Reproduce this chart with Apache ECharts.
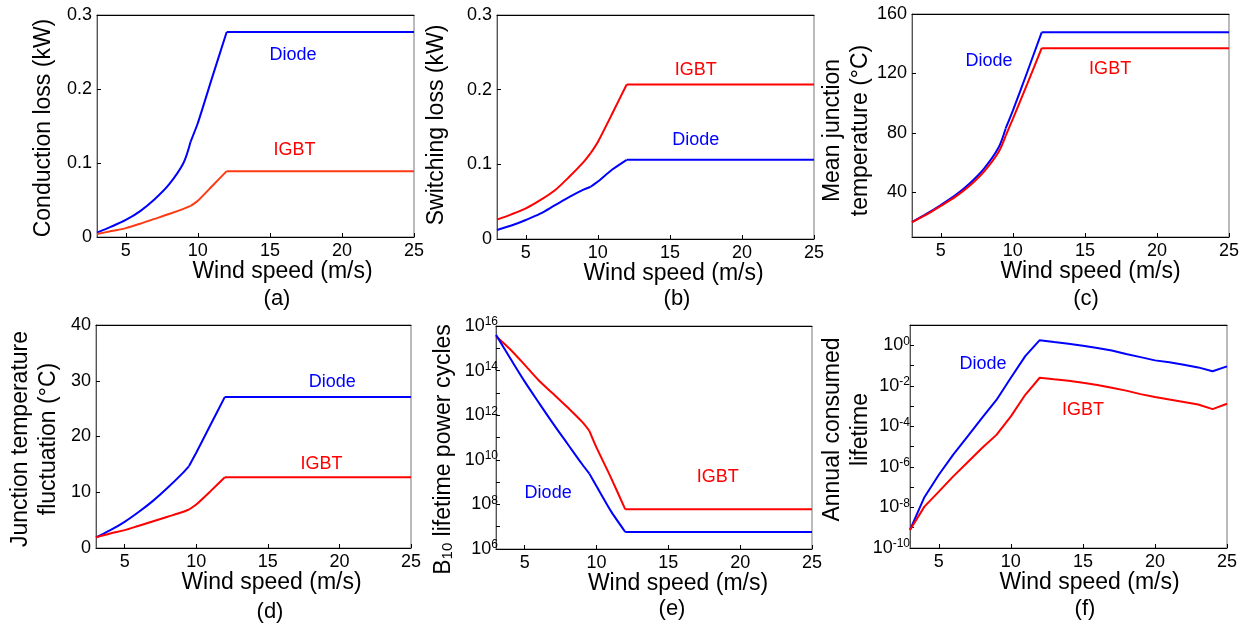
<!DOCTYPE html>
<html><head><meta charset="utf-8">
<script src="https://cdn.jsdelivr.net/npm/echarts@6/dist/echarts.min.js"></script>
<style>html,body{margin:0;padding:0;background:#fff}#c{width:1246px;height:627px}</style>
</head><body><div id="c"></div>
<script>
// ---------- data ----------
const windSpeed = [3, 4, 5, 6, 7, 8, 9, 9.5, 10, 11, 12, 25];
const windSpeedF = [3,4,5,6,7,8,9,10,11,12,13,14,15,16,17,18,19,20,21,22,23,24,25];
const xTicks = [5, 10, 15, 20, 25];
const tjTicks = [40, 80, 120, 160];
const b10Ticks = [1e6, 1e7, 1e8, 1e9, 1e10, 1e11, 1e12, 1e13, 1e14, 1e15, 1e16];
const aclTicks = [1e-10, 1e-9, 1e-8, 1e-7, 1e-6, 1e-5, 1e-4, 1e-3, 1e-2, 1e-1, 1, 10];

const condDiode = [0.006, 0.014, 0.023, 0.035, 0.051, 0.071, 0.100, 0.129, 0.154, 0.216, 0.277, 0.277];
const condIGBT  = [0.004, 0.008, 0.012, 0.018, 0.0245, 0.031, 0.038, 0.042, 0.049, 0.069, 0.089, 0.089];

const swIGBT  = [0.026, 0.033, 0.041, 0.052, 0.065, 0.083, 0.103, 0.115, 0.130, 0.168, 0.207, 0.207];
const swDiode = [0.012, 0.018, 0.0255, 0.034, 0.045, 0.056, 0.066, 0.070, 0.077, 0.093, 0.106, 0.106];

const tjDiode = [20, 25.5, 31.5, 38, 46, 56, 70, 83, 95, 121, 147.7, 147.7];
const tjIGBT  = [20, 25, 31, 37, 44.5, 54, 67, 78, 89.5, 113, 137, 137];

const dtDiode = [1.9, 3.2, 4.7, 6.5, 8.5, 10.8, 13.3, 14.7, 17.1, 22.1, 27.1, 27.1];
const dtIGBT  = [1.9, 2.6, 3.2, 4.0, 4.8, 5.6, 6.4, 6.9, 7.8, 10.2, 12.7, 12.7];

const b10Diode = [4e15, 3.5e14, 3.2e13, 3.5e12, 4e11, 5e10, 6.3e9, 2.4e9, 6.5e8, 5e7, 5.8e6, 5.8e6];
const b10IGBT  = [3.5e15, 8.9e14, 1.8e14, 3.5e13, 8.9e12, 2.2e12, 5e11, 2e11, 3.5e10, 1.6e9, 6e7, 6e7];

const aclDiode = [7.8e-10, 3.2e-8, 4.1e-7, 4.0e-6, 3.2e-5, 2.6e-4, 2.0e-3, 2.5e-2, 0.29, 1.78, 1.45, 1.2, 0.95, 0.74, 0.55, 0.37, 0.26, 0.18, 0.145, 0.11, 0.081, 0.052, 0.091];
const aclIGBT  = [7.8e-10, 1.1e-8, 6.0e-8, 3.4e-7, 1.7e-6, 8.5e-6, 3.8e-5, 3.1e-4, 3.6e-3, 2.5e-2, 2.1e-2, 1.8e-2, 1.4e-2, 1.1e-2, 8.1e-3, 5.8e-3, 3.9e-3, 2.8e-3, 2.1e-3, 1.6e-3, 1.2e-3, 7.1e-4, 1.3e-3];

const yNames = ['Conduction loss (kW)', 'Switching loss (kW)', 'Mean junction\ntemperature (°C)',
  'Junction temperature\nfluctuation (°C)', 'B{sub|10} lifetime power cycles', 'Annual consumed\nlifetime'];
const xName = 'Wind speed (m/s)';
const captions = ['(a)', '(b)', '(c)', '(d)', '(e)', '(f)'];
const seriesNames = ['Diode', 'IGBT'];

// ---------- styling / layout ----------
const FONT = '"Liberation Sans", Arial, sans-serif';
const NAME_FS = 23;
const BLUE = '#0000ff', RED = '#ff0000', ORANGE = '#ff3a12';
const grids = [
  {left: 97, top: 15, width: 317, height: 222},
  {left: 497, top: 15, width: 317, height: 224},
  {left: 912, top: 14, width: 317, height: 223},
  {left: 96, top: 325, width: 315, height: 223},
  {left: 496, top: 326, width: 316, height: 223},
  {left: 910, top: 325, width: 317, height: 223}
];
const xShift = [27, 18, 20, 18, 24, 21];
const capPos = [[277, 299], [677, 299], [1086, 299], [270, 612], [672, 609], [1085, 609]];
// piecewise pieces (index ranges) : rising curve, ramp, flat rated part
const pieces = [[0, 7, 0.3], [7, 10, 0.2], [10, 11, 0]];

function zip(xs, ys) { return xs.map((x, i) => [x, ys[i]]); }

const xAxes = [], yAxes = [], series = [], graphics = [];
grids.forEach((g, i) => {
  xAxes.push({
    type: 'value', gridIndex: i, min: 3, max: 25,
    axisLine: {show: true, onZero: false, lineStyle: {color: '#000', width: 1}},
    axisTick: {show: true, inside: true, length: 4, customValues: xTicks, lineStyle: {color: '#000'}},
    axisLabel: {customValues: xTicks, fontSize: 18, color: '#000', margin: 5, fontFamily: FONT},
    splitLine: {show: false},
    name: xName, nameLocation: 'middle', nameGap: 23, nameMoveOverlap: false,
    nameTextStyle: {fontSize: NAME_FS, color: '#000', fontFamily: FONT, padding: [0, 0, 0, xShift[i] * 2]}
  });
  xAxes.push({
    type: 'value', gridIndex: i, min: 3, max: 25, position: 'top',
    axisLine: {show: true, onZero: false, lineStyle: {color: '#000', width: 1}},
    axisTick: {show: false}, axisLabel: {show: false}, splitLine: {show: false}
  });
});

const supRich = {
  b: {fontSize: 18, lineHeight: 20, verticalAlign: 'middle', fontFamily: FONT, color: '#000'},
  e: {fontSize: 12, lineHeight: 12, verticalAlign: 'top', padding: [0, 0, 28, 0], fontFamily: FONT, color: '#000'}
};
function logFmt(v) {
  const e = Math.round(Math.log10(v));
  if (e % 2 !== 0) return '';
  return '{b|10}{e|' + e + '}';
}

function yBase(i, extra) {
  return Object.assign({
    gridIndex: i,
    axisLine: {show: true, onZero: false, lineStyle: {color: '#555', width: 1}},
    axisTick: {show: true, inside: true, length: 4, lineStyle: {color: '#000'}},
    axisLabel: {fontSize: 18, color: '#000', margin: 5, fontFamily: FONT},
    splitLine: {show: false},
    name: yNames[i], nameLocation: 'middle', nameMoveOverlap: false
  }, extra);
}
yAxes.push(yBase(0, {type: 'value', min: 0, max: 0.3, interval: 0.1, nameGap: 42,
  nameTextStyle: {fontSize: NAME_FS, color: '#000', fontFamily: FONT, padding: [0, 4, 0, 0]}}));
yAxes.push(yBase(1, {type: 'value', min: 0, max: 0.3, interval: 0.1, nameGap: 49,
  nameTextStyle: {fontSize: NAME_FS, color: '#000', fontFamily: FONT, padding: [0, 0, 0, 4]}}));
yAxes.push(yBase(2, {type: 'value', min: 10, max: 160, nameGap: 37,
  axisTick: {show: true, inside: true, length: 4, customValues: tjTicks, lineStyle: {color: '#000'}},
  axisLabel: {customValues: tjTicks, fontSize: 18, color: '#000', margin: 5, fontFamily: FONT},
  nameTextStyle: {fontSize: NAME_FS, lineHeight: 28, color: '#000', fontFamily: FONT, padding: [0, 10, 0, 0]}}));
yAxes.push(yBase(3, {type: 'value', min: 0, max: 40, interval: 10, nameGap: 33,
  nameTextStyle: {fontSize: NAME_FS, lineHeight: 28, color: '#000', fontFamily: FONT, padding: [0, 5, 0, 0]}}));
yAxes.push(yBase(4, {type: 'log', logBase: 10, min: 1e6, max: 1e16, nameGap: 41,
  axisTick: {show: true, inside: true, length: 4, customValues: b10Ticks, lineStyle: {color: '#000'}},
  axisLabel: {customValues: b10Ticks, formatter: logFmt, rich: supRich, margin: -2, fontSize: 18, color: '#000', fontFamily: FONT},
  nameTextStyle: {fontSize: NAME_FS, color: '#000', fontFamily: FONT, padding: [0, 24, 0, 0],
    rich: {sub: {fontSize: 15, lineHeight: 15, padding: [12, 0, 0, 0], verticalAlign: 'bottom', fontFamily: FONT, color: '#000'}}}}));
yAxes.push(yBase(5, {type: 'log', logBase: 10, min: 1e-10, max: 10, nameGap: 35,
  axisTick: {show: true, inside: true, length: 4, customValues: aclTicks, lineStyle: {color: '#000'}},
  axisLabel: {customValues: aclTicks, formatter: logFmt, rich: supRich, margin: 0, fontSize: 18, color: '#000', fontFamily: FONT},
  nameTextStyle: {fontSize: NAME_FS, lineHeight: 28, color: '#000', fontFamily: FONT, padding: [0, 0, 0, 14]}}));

function mark(labelText, labelCoord) {
  return {
    symbol: 'circle', symbolSize: 0, silent: true,
    label: {show: true, position: 'inside', formatter: labelText, color: labelText === 'Diode' ? BLUE : RED,
      fontSize: 18, fontFamily: FONT},
    data: [{coord: labelCoord}]
  };
}
function lineSeries(i, data, color, smooth, mp) {
  const s = {
    type: 'line', xAxisIndex: i * 2, yAxisIndex: i, data: data,
    showSymbol: false, symbol: 'none', smooth: smooth, silent: true,
    lineStyle: {color: color, width: 2}, itemStyle: {color: color}
  };
  if (mp) s.markPoint = mp;
  series.push(s);
}
// rising curves drawn in pieces so the kinks at 9.5 m/s and 12 m/s stay sharp
function addPiecewise(i, xs, ys, color, labelText, labelCoord) {
  const pts = zip(xs, ys);
  pieces.forEach((p, k) => {
    lineSeries(i, pts.slice(p[0], p[1] + 1), color, p[2], k === 0 ? mark(labelText, labelCoord) : null);
  });
}
function addLine(i, xs, ys, color, labelText, labelCoord) {
  lineSeries(i, zip(xs, ys), color, false, mark(labelText, labelCoord));
}
addPiecewise(0, windSpeed, condDiode, BLUE, seriesNames[0], [16.6, 0.2456]);
addPiecewise(0, windSpeed, condIGBT, ORANGE, seriesNames[1], [16.7, 0.117]);
addPiecewise(1, windSpeed, swIGBT, RED, seriesNames[1], [16.8, 0.2267]);
addPiecewise(1, windSpeed, swDiode, BLUE, seriesNames[0], [16.8, 0.1328]);
addPiecewise(2, windSpeed, tjDiode, BLUE, seriesNames[0], [8.35, 128.2]);
addPiecewise(2, windSpeed, tjIGBT, RED, seriesNames[1], [16.75, 122.8]);
addPiecewise(3, windSpeed, dtDiode, BLUE, seriesNames[0], [19.5, 29.8]);
addPiecewise(3, windSpeed, dtIGBT, RED, seriesNames[1], [18.75, 15.1]);
addPiecewise(4, windSpeed, b10IGBT, RED, seriesNames[1], [18.44, 1.7e9]);
addPiecewise(4, windSpeed, b10Diode, BLUE, seriesNames[0], [6.63, 3.2e8]);
addLine(5, windSpeedF, aclDiode, BLUE, seriesNames[0], [8.07, 0.12]);
addLine(5, windSpeedF, aclIGBT, RED, seriesNames[1], [15.0, 6.6e-4]);

captions.forEach((c, i) => {
  graphics.push({type: 'text', x: capPos[i][0], y: capPos[i][1], silent: true,
    style: {text: c, font: '22px ' + FONT, fill: '#000', align: 'center', verticalAlign: 'middle'}});
});

const chart = echarts.init(document.getElementById('c'), null, {renderer: 'canvas'});
chart.setOption({
  animation: false,
  backgroundColor: '#fff',
  textStyle: {fontFamily: FONT},
  grid: grids.map(g => Object.assign({show: true, borderColor: '#777', borderWidth: 1, backgroundColor: 'transparent',
    containLabel: false, outerBoundsMode: 'none'}, g)),
  xAxis: xAxes,
  yAxis: yAxes,
  series: series,
  graphic: graphics
});
</script></body></html>
